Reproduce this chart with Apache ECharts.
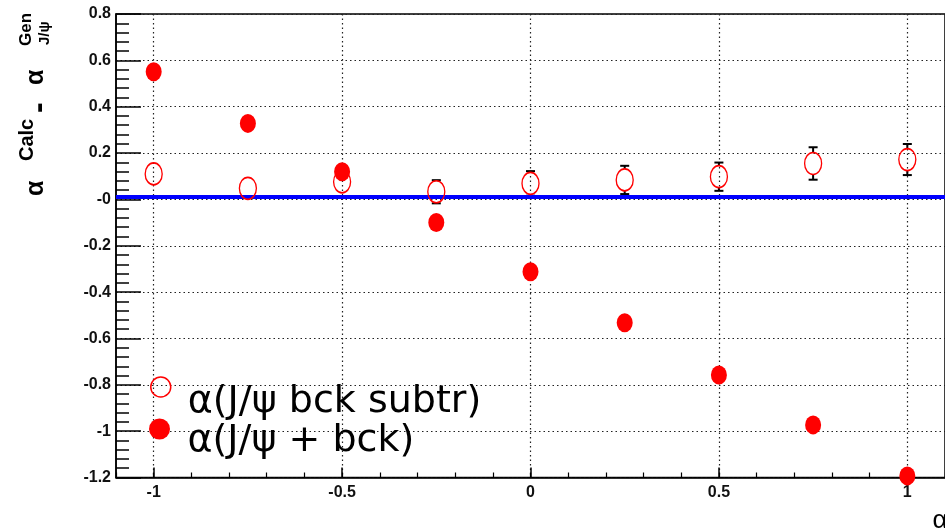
<!DOCTYPE html>
<html><head><meta charset="utf-8">
<script src="https://cdn.jsdelivr.net/npm/echarts@6/dist/echarts.min.js"></script>
<style>html,body{margin:0;padding:0;background:#fff}#c{width:945px;height:532px}</style>
</head><body><div id="c"></div>
<script>
const xVals = [-1, -0.75, -0.5, -0.25, 0, 0.25, 0.5, 0.75, 1];
const subtrVals = [0.110, 0.048, 0.076, 0.033, 0.069, 0.084, 0.098, 0.155, 0.172];
const subtrErr = [0.03, 0.02, 0.043, 0.05, 0.053, 0.061, 0.061, 0.07, 0.067];
const bckVals = [0.551, 0.328, 0.119, -0.100, -0.312, -0.532, -0.758, -0.973, -1.193];
const xMajorTicks = [-1, -0.5, 0, 0.5, 1];
const seriesNames = ['α(J/ψ bck subtr)', 'α(J/ψ + bck)'];
const xTitle = 'α';

const chart = echarts.init(document.getElementById('c'), null, {renderer: 'canvas'});
const FF = '"Liberation Sans", Arial, sans-serif';
const LF = '"DejaVu Sans", sans-serif';
const tickFont = {fontSize: 16, fontWeight: 'bold', fontFamily: FF, color: '#111'};
const dotted = {color: '#222', type: [1.5, 3], width: 1.2};

function rotText(text, x, y, size, weight) {
  return {type: 'text', x: x, y: y, rotation: Math.PI / 2, silent: true,
    style: {text: text, fontSize: size, fontWeight: weight || 'bold', fontFamily: FF,
      fill: '#000', align: 'left', verticalAlign: 'middle'}};
}
function legendText(shift) {
  return {
    formatter: name => '{s| }\n{t|' + name + '}',
    textStyle: {rich: {
      s: {fontSize: 2, lineHeight: shift * 2},
      t: {fontFamily: LF, fontSize: 38, color: '#000', lineHeight: 42, padding: [0, 0, 0, 12]}
    }}
  };
}

const option = {
  animation: false,
  backgroundColor: '#fff',
  grid: {left: 116, top: 14, width: 830, height: 463.5, show: true,
    borderColor: '#000', borderWidth: 1.5, backgroundColor: 'transparent'},
  xAxis: [
    {type: 'value', min: -1.1, max: 1.1, position: 'bottom',
      axisLine: {show: true, onZero: false, lineStyle: {color: '#000', width: 1.5}},
      axisTick: {show: true, inside: true, length: 10, customValues: xMajorTicks,
        lineStyle: {color: '#000', width: 1.5}},
      axisLabel: Object.assign({customValues: xMajorTicks, margin: 7,
        formatter: v => String(Math.round(v * 10) / 10)}, tickFont),
      splitLine: {show: true, lineStyle: dotted}},
    {type: 'value', min: -1.1, max: 1.1, interval: 0.1, position: 'bottom',
      axisLine: {show: false, onZero: false},
      axisTick: {show: true, inside: true, length: 5, lineStyle: {color: '#000', width: 1.2}},
      axisLabel: {show: false}, splitLine: {show: false}}
  ],
  yAxis: {type: 'value', min: -1.2, max: 0.8, interval: 0.2,
    axisLine: {show: true, onZero: false, lineStyle: {color: '#000', width: 1.5}},
    axisTick: {show: true, inside: true, length: 25, lineStyle: {color: '#000', width: 1.5}},
    minorTick: {show: true, splitNumber: 5, length: 13, lineStyle: {color: '#000', width: 1.5}},
    axisLabel: Object.assign({margin: 5, formatter: v => {
      const r = Math.round(v * 10) / 10; return r === 0 ? '-0' : String(r);
    }}, tickFont),
    splitLine: {show: true, lineStyle: dotted}},
  legend: [
    Object.assign({data: [{name: seriesNames[0], icon: 'circle',
      itemStyle: {color: 'rgba(0,0,0,0)', borderColor: '#ff0000', borderWidth: 1.5}}],
      left: 150, top: 365, padding: 0, itemWidth: 20, itemHeight: 20, selectedMode: false},
      legendText(15)),
    Object.assign({data: [{name: seriesNames[1], icon: 'circle', itemStyle: {color: '#ff0000'}}],
      left: 149, top: 407, padding: 0, itemWidth: 22, itemHeight: 21, selectedMode: false},
      legendText(12.5))
  ],
  graphic: [
    rotText('α', 36.5, 196, 25),
    rotText('Calc', 27.5, 161, 20),
    rotText('-', 39, 113, 32),
    rotText('α', 36.5, 85, 25),
    rotText('Gen', 26, 46, 17),
    rotText('J/ψ', 45, 45, 15)
  ].concat([
    {type: 'text', x: 940, y: 521, silent: true,
      style: {text: xTitle, fontSize: 26, fontFamily: FF, fill: '#000', align: 'center', verticalAlign: 'middle'}}
  ]),
  series: [
    {type: 'custom', name: 'err', xAxisIndex: 0, yAxisIndex: 0, z: 3,
      encode: {x: 0, y: 1},
      data: xVals.map((x, i) => [x, subtrVals[i], subtrErr[i]]),
      renderItem: function (params, api) {
        const x = api.value(0), y = api.value(1), e = api.value(2);
        const c = api.coord([x, y]);
        const top = api.coord([x, y + e]);
        const bot = api.coord([x, y - e]);
        const half = 11, cap = 4.5;
        const st = {stroke: '#000', lineWidth: 2};
        const ch = [];
        if (top[1] < c[1] - half) {
          ch.push({type: 'line', shape: {x1: c[0], y1: top[1], x2: c[0], y2: c[1] - half}, style: st});
          ch.push({type: 'line', shape: {x1: c[0] - cap, y1: top[1], x2: c[0] + cap, y2: top[1]}, style: st});
        }
        if (bot[1] > c[1] + half) {
          ch.push({type: 'line', shape: {x1: c[0], y1: c[1] + half, x2: c[0], y2: bot[1]}, style: st});
          ch.push({type: 'line', shape: {x1: c[0] - cap, y1: bot[1], x2: c[0] + cap, y2: bot[1]}, style: st});
        }
        return {type: 'group', children: ch};
      }},
    {type: 'scatter', name: seriesNames[1], xAxisIndex: 0, z: 4,
      symbol: 'circle', symbolSize: [16, 19],
      itemStyle: {color: '#ff0000', opacity: 1},
      data: xVals.map((x, i) => [x, bckVals[i]]),
      markLine: {silent: true, symbol: 'none', label: {show: false},
        lineStyle: {color: '#0000ff', width: 4, type: 'solid'},
        data: [{yAxis: 0.006}]}},
    {type: 'scatter', name: seriesNames[0], xAxisIndex: 0, z: 5,
      symbol: 'circle', symbolSize: [17, 22],
      itemStyle: {color: 'rgba(0,0,0,0)', borderColor: '#ff0000', borderWidth: 1.5, opacity: 1},
      data: xVals.map((x, i) => [x, subtrVals[i]])}
  ]
};
chart.setOption(option);
</script></body></html>
